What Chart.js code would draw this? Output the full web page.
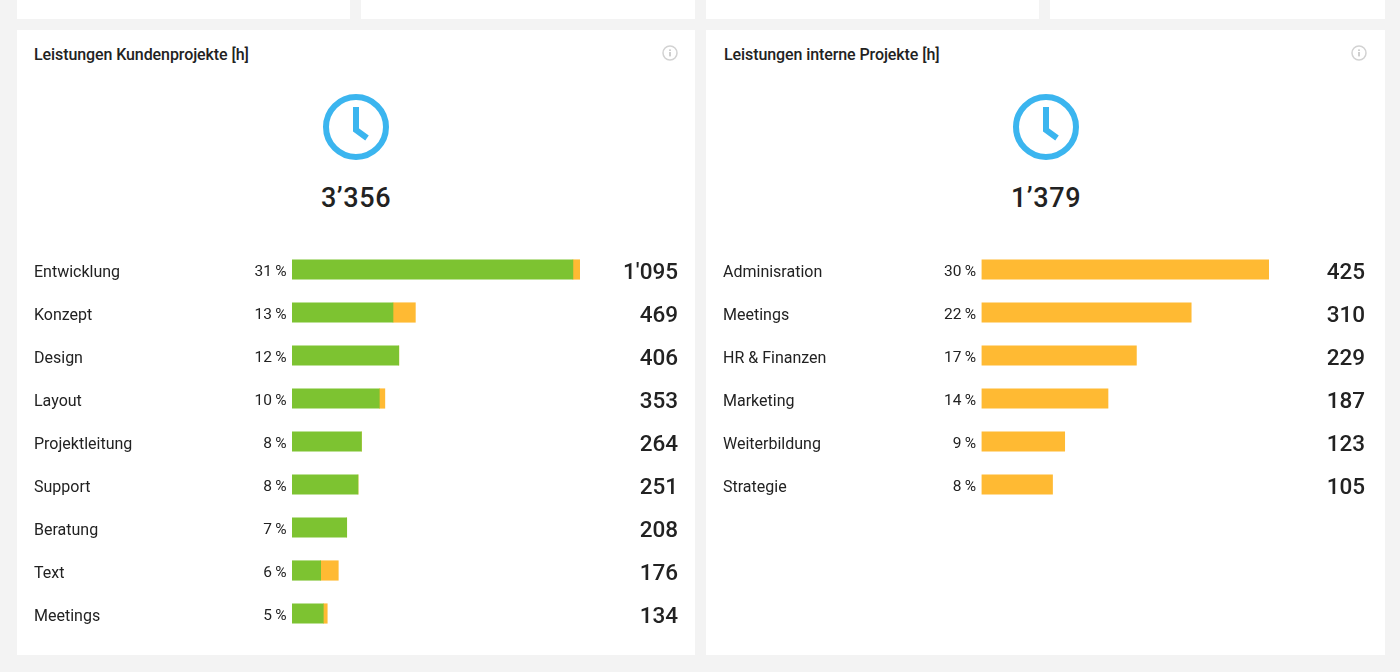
<!DOCTYPE html>
<html>
<head>
<meta charset="utf-8">
<title>Leistungen</title>
<script src="https://cdn.jsdelivr.net/npm/chart.js@4"></script>
<style>
  html, body { margin: 0; padding: 0; }
  body { width: 1400px; height: 672px; background: #f3f3f3; position: relative; overflow: hidden; font-family: Roboto, sans-serif; color: #222; }
  .card { position: absolute; background: #fff; }
  .title { position: absolute; top: 46px; font-size: 16px; font-weight: 500; line-height: 18px; letter-spacing: -0.09px; white-space: nowrap; }
  .total { position: absolute; top: 181px; width: 200px; text-align: center; font-size: 27px; font-weight: 500; line-height: 34px; letter-spacing: 0.6px; }
  svg { position: absolute; }
  canvas { position: absolute; top: 248px; }
</style>
</head>
<body>
<div class="card" style="left:17px;top:0;width:333px;height:19px"></div>
<div class="card" style="left:361px;top:0;width:334px;height:19px"></div>
<div class="card" style="left:706px;top:0;width:333px;height:19px"></div>
<div class="card" style="left:1050px;top:0;width:335px;height:19px"></div>
<div class="card" style="left:17px;top:30px;width:678px;height:625px"></div>
<div class="card" style="left:706px;top:30px;width:679px;height:625px"></div>

<div class="title" style="left:34px">Leistungen Kundenprojekte [h]</div>
<div class="title" style="left:724px">Leistungen interne Projekte [h]</div>

<svg style="left:662px;top:45px" width="16" height="16" viewBox="0 0 16 16"><circle cx="8" cy="8" r="7" fill="none" stroke="#d2d2d2" stroke-width="1.5"/><rect x="7.2" y="7" width="1.6" height="4.4" fill="#c4c4c4"/><rect x="7.2" y="4.4" width="1.6" height="1.6" fill="#c4c4c4"/></svg>
<svg style="left:1351px;top:45px" width="16" height="16" viewBox="0 0 16 16"><circle cx="8" cy="8" r="7" fill="none" stroke="#d2d2d2" stroke-width="1.5"/><rect x="7.2" y="7" width="1.6" height="4.4" fill="#c4c4c4"/><rect x="7.2" y="4.4" width="1.6" height="1.6" fill="#c4c4c4"/></svg>

<svg style="left:321px;top:92px" width="70" height="70" viewBox="0 0 70 70"><circle cx="35" cy="35" r="30" fill="none" stroke="#3bb5ef" stroke-width="6"/><path d="M35 15 V38 L46 46" fill="none" stroke="#3bb5ef" stroke-width="6"/></svg>
<svg style="left:1011px;top:92px" width="70" height="70" viewBox="0 0 70 70"><circle cx="35" cy="35" r="30" fill="none" stroke="#3bb5ef" stroke-width="6"/><path d="M35 15 V38 L46 46" fill="none" stroke="#3bb5ef" stroke-width="6"/></svg>

<div class="total" style="left:256px">3’356</div>
<div class="total" style="left:946px">1’379</div>

<canvas id="kundenChart" width="678" height="387" style="left:17px"></canvas>
<canvas id="internChart" width="679" height="258" style="left:706px"></canvas>

<script>
// Kundenprojekte
var kundenLabels = ['Entwicklung', 'Konzept', 'Design', 'Layout', 'Projektleitung', 'Support', 'Beratung', 'Text', 'Meetings'];
var kundenGreen = [1068, 384, 406, 332, 264, 251, 208, 109, 119];
var kundenAmber = [27, 85, 0, 21, 0, 0, 0, 67, 15];
var kundenPercent = ['31\u2009%', '13\u2009%', '12\u2009%', '10\u2009%', '8\u2009%', '8\u2009%', '7\u2009%', '6\u2009%', '5\u2009%'];
var kundenTotals = ["1'095", '469', '406', '353', '264', '251', '208', '176', '134'];

// interne Projekte
var internLabels = ['Adminisration', 'Meetings', 'HR & Finanzen', 'Marketing', 'Weiterbildung', 'Strategie'];
var internAmber = [425, 310, 229, 187, 123, 105];
var internPercent = ['30\u2009%', '22\u2009%', '17\u2009%', '14\u2009%', '9\u2009%', '8\u2009%'];
var internTotals = ['425', '310', '229', '187', '123', '105'];

var GREEN = '#7dc331';
var AMBER = '#ffba33';

// percent left of the bar, hours at the right edge of the card
function rowText(percent, totals, valueRight) {
    return {
        id: 'rowText',
        afterDatasetsDraw: function(chart) {
            var ctx = chart.ctx;
            var y = chart.scales.y;
            ctx.save();
            ctx.textAlign = 'right';
            ctx.textBaseline = 'middle';
            ctx.fillStyle = '#222';
            percent.forEach(function(p, i) {
                var yPos = y.getPixelForTick(i);
                ctx.font = '400 15.5px Roboto';
                ctx.fillText(p, chart.chartArea.left - 5.5, yPos + 3);
                ctx.font = '500 22.5px Roboto';
                ctx.fillText(totals[i], valueRight, yPos + 3.5);
            });
            ctx.restore();
        }
    };
}

function makeChart(id, labels, datasets, max, padRight, axisWidth, plugin) {
    return new Chart(document.getElementById(id).getContext('2d'), {
        type: 'bar',
        data: { labels: labels, datasets: datasets },
        plugins: [plugin],
        options: {
            indexAxis: 'y',
            responsive: false,
            animation: false,
            layout: { padding: { left: 17, right: padRight, top: 0, bottom: 0 } },
            plugins: { legend: { display: false }, tooltip: { enabled: false } },
            scales: {
                x: { display: false, stacked: true, min: 0, max: max },
                y: {
                    stacked: true,
                    grid: { display: false },
                    border: { display: false },
                    afterFit: function(scale) {
                        // rows must fill the canvas height
                        scale.width = axisWidth;
                        scale.paddingTop = 0;
                        scale.paddingBottom = 0;
                    },
                    ticks: { crossAlign: 'far', labelOffset: 3, color: '#222', font: { family: 'Roboto', size: 16 } }
                }
            }
        }
    });
}

makeChart('kundenChart', kundenLabels, [
    { data: kundenGreen, backgroundColor: GREEN, barThickness: 19.5 },
    { data: kundenAmber, backgroundColor: AMBER, barThickness: 19.5 }
], 1095, 115, 258, rowText(kundenPercent, kundenTotals, 661));

makeChart('internChart', internLabels, [
    { data: internAmber, backgroundColor: AMBER, barThickness: 19.5 }
], 425, 116, 258.5, rowText(internPercent, internTotals, 659));
</script>
</body>
</html>
